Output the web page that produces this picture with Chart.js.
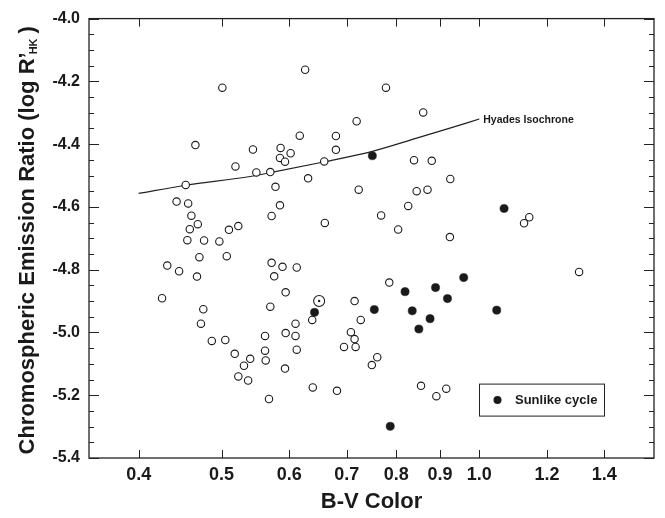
<!DOCTYPE html>
<html>
<head>
<meta charset="utf-8">
<script src="https://cdn.jsdelivr.net/npm/chart.js@4"></script>
<style>
  html, body { margin: 0; padding: 0; background: #fff; }
  #wrap { width: 665px; height: 518px; position: relative; }
</style>
</head>
<body>
<div id="wrap"><canvas id="myChart"></canvas></div>
<script>
// stars without a sunlike cycle (open circles)
const openBV = [
  0.501, 0.626, 0.719, 0.617, 0.680, 0.466, 0.544, 0.586, 0.680, 0.602,
  0.585, 0.593, 0.659, 0.519, 0.549, 0.570, 0.631, 0.454, 0.578, 0.723,
  0.443, 0.457, 0.585, 0.461, 0.572, 0.768, 0.469, 0.459, 0.510, 0.523,
  0.660, 0.456, 0.477, 0.497, 0.778, 0.860, 0.839, 0.880, 0.925, 0.845,
  0.870, 0.826, 0.804, 0.924, 1.128, 1.144, 0.471, 0.507, 0.432, 0.446,
  0.468, 0.572, 0.589, 0.612, 0.576, 0.594, 0.426, 0.476, 0.570, 0.715,
  0.638, 0.727, 0.473, 0.610, 0.594, 0.610, 0.562, 0.708, 0.715, 0.717,
  0.695, 0.487, 0.505, 0.612, 0.562, 0.518, 0.540, 0.563, 0.531, 0.760,
  0.749, 0.593, 0.523, 0.537, 0.639, 0.682, 0.568, 1.308, 0.785, 0.855,
  0.915, 0.891
];
const openLogR = [
  -4.220, -4.163, -4.327, -4.373, -4.374, -4.403, -4.417, -4.412, -4.418, -4.429,
  -4.444, -4.456, -4.455, -4.471, -4.490, -4.489, -4.509, -4.530, -4.536, -4.545,
  -4.583, -4.589, -4.595, -4.628, -4.629, -4.627, -4.655, -4.671, -4.673, -4.661,
  -4.651, -4.706, -4.707, -4.710, -4.220, -4.299, -4.451, -4.453, -4.511, -4.550,
  -4.545, -4.597, -4.672, -4.696, -4.652, -4.633, -4.760, -4.757, -4.787, -4.805,
  -4.822, -4.778, -4.791, -4.793, -4.821, -4.872, -4.891, -4.926, -4.918, -4.900,
  -4.960, -4.960, -4.972, -4.972, -5.002, -5.011, -5.011, -4.999, -5.021, -5.046,
  -5.046, -5.027, -5.024, -5.055, -5.058, -5.068, -5.084, -5.089, -5.106, -5.079,
  -5.104, -5.115, -5.140, -5.153, -5.175, -5.186, -5.212, -4.807, -4.841, -5.170,
  -5.179, -5.203
];

// stars with a sunlike cycle (filled)
const cycleBV = [0.750, 1.069, 0.642, 0.754, 0.819, 0.889, 0.959, 0.918, 0.835, 1.048, 0.876, 0.850, 0.787];
const cycleLogR = [-4.437, -4.605, -4.936, -4.927, -4.870, -4.857, -4.825, -4.892, -4.931, -4.929, -4.956, -4.989, -5.299];

// the Sun
const sunBV = [0.65];
const sunLogR = [-4.90];

// Hyades isochrone
const hyadesBV = [0.40, 0.454, 0.54, 0.57, 0.66, 0.75, 0.845, 0.924, 1.0];
const hyadesLogR = [-4.557, -4.531, -4.503, -4.491, -4.456, -4.423, -4.381, -4.349, -4.320];

const xTickValues = [0.4, 0.5, 0.6, 0.7, 0.8, 0.9, 1.0, 1.2, 1.4];
const yTickValues = [-5.4, -5.2, -5.0, -4.8, -4.6, -4.4, -4.2, -4.0];

const xTitle = "B-V Color";
const yTitleMain = "Chromospheric Emission Ratio (log R\u2019";
const yTitleSub = "HK";
const hyadesLabel = "Hyades Isochrone";
const legendLabel = "Sunlike cycle";

const FONT = '"Liberation Sans", Arial, Helvetica, sans-serif';
const INK = "#1a1a1a";

function toPoints(xs, ys) {
  return xs.map((v, i) => ({ x: v, y: ys[i] }));
}

// frame, inward ticks, y title, isochrone label, legend box
const decorPlugin = {
  id: "decor",
  afterDraw(chart) {
    const { ctx, chartArea: a, scales: { x, y } } = chart;
    ctx.save();

    ctx.strokeStyle = "#222";
    ctx.lineWidth = 1.3;
    ctx.strokeRect(a.left, a.top, a.right - a.left, a.bottom - a.top);

    ctx.lineWidth = 1;
    ctx.beginPath();
    xTickValues.forEach(v => {
      const px = Math.round(x.getPixelForValue(v)) + 0.5;
      ctx.moveTo(px, a.bottom); ctx.lineTo(px, a.bottom - 8);
      ctx.moveTo(px, a.top); ctx.lineTo(px, a.top + 8);
    });
    const yMin = yTickValues[0], yMax = yTickValues[yTickValues.length - 1];
    const nMinor = Math.round((yMax - yMin) / 0.05);
    for (let i = 0; i <= nMinor; i++) {
      const v = yMin + i * 0.05;
      const py = Math.round(y.getPixelForValue(v)) + 0.5;
      const len = i % 4 === 0 ? 10 : 5;
      ctx.moveTo(a.left, py); ctx.lineTo(a.left + len, py);
      ctx.moveTo(a.right, py); ctx.lineTo(a.right - len, py);
    }
    ctx.stroke();

    // y axis title with subscript
    ctx.fillStyle = INK;
    ctx.translate(28, (a.top + a.bottom) / 2 + 2);
    ctx.rotate(-Math.PI / 2);
    ctx.textBaseline = "middle";
    ctx.textAlign = "left";
    ctx.font = "bold 22px " + FONT;
    const w1 = ctx.measureText(yTitleMain).width;
    const w3 = ctx.measureText(")").width;
    ctx.font = "bold 11px " + FONT;
    const w2 = ctx.measureText(yTitleSub).width;
    let sx = -(w1 + w2 + w3 + 3) / 2;
    ctx.font = "bold 22px " + FONT;
    ctx.fillText(yTitleMain, sx, 0);
    sx += w1 - 2;
    ctx.font = "bold 11px " + FONT;
    ctx.fillText(yTitleSub, sx, 6);
    sx += w2 + 5;
    ctx.font = "bold 22px " + FONT;
    ctx.fillText(")", sx, 0);
    ctx.restore();

    // label at the end of the isochrone
    ctx.save();
    const last = hyadesBV.length - 1;
    ctx.fillStyle = INK;
    ctx.font = "bold 10.5px " + FONT;
    ctx.textBaseline = "middle";
    ctx.fillText(hyadesLabel, x.getPixelForValue(hyadesBV[last]) + 4, y.getPixelForValue(hyadesLogR[last]) + 1);

    // legend box
    const bx = a.left + 390, by = a.top + 365, bw = 125, bh = 32;
    ctx.strokeStyle = "#222";
    ctx.lineWidth = 1;
    ctx.strokeRect(bx + 0.5, by + 0.5, bw, bh);
    ctx.beginPath();
    ctx.arc(bx + 18.5, by + bh / 2 + 0.5, 4, 0, Math.PI * 2);
    ctx.fill();
    ctx.font = "bold 13px " + FONT;
    ctx.fillText(legendLabel, bx + 36, by + bh / 2 + 1);
    ctx.restore();
  }
};

const ctx = document.getElementById("myChart").getContext("2d");

new Chart(ctx, {
  type: "scatter",
  data: {
    datasets: [
      {
        label: "Sun dot",
        data: toPoints(sunBV, sunLogR),
        pointRadius: 1.2,
        pointBackgroundColor: INK,
        pointBorderWidth: 0
      },
      {
        label: "Sun",
        data: toPoints(sunBV, sunLogR),
        pointRadius: 5.5,
        pointBackgroundColor: "#fff",
        pointBorderColor: INK,
        pointBorderWidth: 1.1
      },
      {
        label: legendLabel,
        data: toPoints(cycleBV, cycleLogR),
        pointRadius: 4.1,
        pointBackgroundColor: INK,
        pointBorderColor: INK,
        pointBorderWidth: 0.5
      },
      {
        label: "Other stars",
        data: toPoints(openBV, openLogR),
        pointRadius: 3.7,
        pointBackgroundColor: "#fff",
        pointBorderColor: INK,
        pointBorderWidth: 1.1
      },
      {
        type: "line",
        label: hyadesLabel,
        data: toPoints(hyadesBV, hyadesLogR),
        borderColor: "#222",
        borderWidth: 1.2,
        pointRadius: 0,
        fill: false,
        cubicInterpolationMode: "monotone"
      }
    ]
  },
  options: {
    responsive: true,
    maintainAspectRatio: false,
    animation: false,
    layout: { padding: { top: 12, right: 11, left: 0, bottom: 0 } },
    plugins: {
      legend: { display: false },
      tooltip: { enabled: false }
    },
    scales: {
      x: {
        type: "logarithmic",
        min: 0.35,
        max: 1.6,
        afterBuildTicks: scale => { scale.ticks = xTickValues.map(v => ({ value: v })); },
        afterFit: scale => { scale.height = 60; },
        grid: { display: false, drawTicks: false },
        border: { display: false },
        ticks: {
          autoSkip: false,
          maxRotation: 0,
          padding: 6,
          color: INK,
          font: { family: FONT, size: 18, weight: "bold" },
          callback: v => Number(v).toFixed(1)
        },
        title: {
          display: true,
          text: xTitle,
          color: INK,
          font: { family: FONT, size: 22, weight: "bold" },
          padding: { top: 0, bottom: 3 }
        }
      },
      y: {
        min: -5.4,
        max: -4.0,
        afterBuildTicks: scale => { scale.ticks = yTickValues.map(v => ({ value: v })); },
        afterFit: scale => { scale.width = 89; },
        grid: { display: false, drawTicks: false },
        border: { display: false },
        ticks: {
          padding: 9,
          color: INK,
          font: { family: FONT, size: 16, weight: "bold" },
          callback: v => Number(v).toFixed(1)
        }
      }
    }
  },
  plugins: [decorPlugin]
});
</script>
</body>
</html>
